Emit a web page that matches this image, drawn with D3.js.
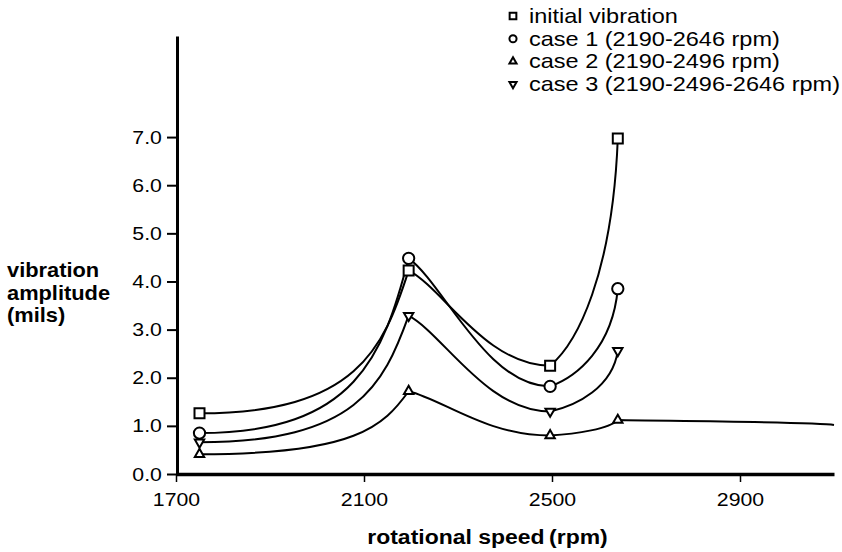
<!DOCTYPE html>
<html>
<head>
<meta charset="utf-8">
<script src="https://cdn.jsdelivr.net/npm/d3@7"></script>
<style>
  body { margin: 0; background: #fff; }
  text { font-family: "Liberation Sans", Arial, Helvetica, sans-serif; fill: #000; }
</style>
</head>
<body>
<div id="chart"></div>
<script>
// values
const rpm = [1750, 2195, 2496, 2640];
const initialVibration = [1.26, 4.23, 2.25, 6.97];
const case1 = [0.85, 4.48, 1.82, 3.85];
const case2 = [0.41, 1.72, 0.80, 1.12];
const case3 = [0.66, 3.29, 1.30, 2.56];
// case 2 carries on past its last marker to the end of the axis
const case2TailRpm = [3100];
const case2TailAmp = [1.02];

const xTicks = [1700, 2100, 2500, 2900];
const yTicks = [0, 1, 2, 3, 4, 5, 6, 7];
const seriesNames = [
  "initial vibration",
  "case 1 (2190-2646 rpm)",
  "case 2 (2190-2496 rpm)",
  "case 3 (2190-2496-2646 rpm)"
];

const SX = 1.12; // the scanned type is a little wide

const svg = d3.select("#chart")
  .append("svg")
    .attr("width", 842)
    .attr("height", 552);

const x = d3.scaleLinear().domain([1700, 3100]).range([176, 834]);
const y = d3.scaleLinear().domain([0, 9.1]).range([474, 36]);

const series = [
  { name: seriesNames[0], xs: rpm, ys: initialVibration, type: d3.symbolSquare, size: 100, legSize: 45, rot: 0 },
  { name: seriesNames[1], xs: rpm, ys: case1, type: d3.symbolCircle, size: 100, legSize: 40, rot: 0 },
  { name: seriesNames[2], xs: rpm, ys: case2, type: d3.symbolTriangle, size: 38, legSize: 22, rot: 0,
    tailX: case2TailRpm, tailY: case2TailAmp },
  { name: seriesNames[3], xs: rpm, ys: case3, type: d3.symbolTriangle, size: 38, legSize: 22, rot: 180 }
];

// hand drawn look: flat starts, tight peaks, steep finish
const curvePath = (pts) => {
  const n = pts.length;
  const kind = i => {
    if (i === 0) return "start";
    if (i === n - 1) return "end";
    if (pts[i][1] < pts[i - 1][1] && pts[i][1] < pts[i + 1][1]) return "max";
    if (pts[i][1] > pts[i - 1][1] && pts[i][1] > pts[i + 1][1]) return "min";
    return "mid";
  };
  const p = d3.path();
  p.moveTo(pts[0][0], pts[0][1]);
  for (let i = 0; i < n - 1; i++) {
    const [ax, ay] = pts[i], [bx, by] = pts[i + 1];
    const dx = bx - ax, dy = by - ay;
    let c1, c2;
    switch (kind(i)) {
      case "start": c1 = [ax + 0.75 * dx, ay]; break;
      case "max": c1 = [ax + 0.25 * dx, ay + 0.2 * dy]; break;
      case "min": c1 = [ax + 0.4 * dx, ay + 0.1 * dy]; break;
      default: c1 = [ax + dx / 3, ay + dy / 3];
    }
    switch (kind(i + 1)) {
      case "max": c2 = [bx - 0.12 * dx, by - 0.55 * dy]; break;
      case "min": c2 = [bx - 0.45 * dx, by]; break;
      case "end": c2 = [bx - 0.08 * dx, by - 0.6 * dy]; break;
      default: c2 = [bx - dx / 3, by - dy / 3];
    }
    p.bezierCurveTo(c1[0], c1[1], c2[0], c2[1], bx, by);
  }
  return p.toString();
};

// y axis
svg.append("g")
  .attr("transform", `translate(${x(1700) + 1},0)`)
  .call(d3.axisLeft(y).tickValues(yTicks).tickFormat(d3.format(".1f"))
    .tickSize(10).tickSizeOuter(0).tickPadding(3.5))
  .attr("font-family", null)
  .attr("font-size", 19)
  .call(g => {
    g.select(".domain").attr("stroke-width", 3);
    g.selectAll(".tick line").attr("stroke-width", 2);
    g.selectAll(".tick text").attr("transform", `scale(${SX},1)`);
  });

// x axis
svg.append("g")
  .attr("transform", `translate(0,${y(0)})`)
  .call(d3.axisBottom(x).tickValues(xTicks).tickFormat(d3.format("d"))
    .tickSize(8).tickSizeOuter(0).tickPadding(11))
  .attr("font-family", null)
  .attr("font-size", 19)
  .call(g => {
    g.select(".domain").attr("stroke-width", 3.5);
    g.selectAll(".tick line").attr("stroke-width", 1.5);
    g.selectAll(".tick text").attr("transform", `scale(${SX},1)`);
  });

// curves
svg.selectAll("path.curve")
  .data(series)
  .join("path")
    .attr("class", "curve")
    .attr("fill", "none")
    .attr("stroke", "#000")
    .attr("stroke-width", 2)
    .attr("d", s => {
      const xs = s.tailX ? s.xs.concat(s.tailX) : s.xs;
      const ys = s.tailY ? s.ys.concat(s.tailY) : s.ys;
      return curvePath(xs.map((v, i) => [x(v), y(ys[i])]));
    });

// markers
series.forEach(s => {
  svg.append("g")
    .selectAll("path")
    .data(s.xs.map((v, i) => [v, s.ys[i]]))
    .join("path")
      .attr("d", d3.symbol().type(s.type).size(s.size))
      .attr("transform", d => `translate(${x(d[0])},${y(d[1])}) rotate(${s.rot})`)
      .attr("fill", "#fff")
      .attr("stroke", "#000")
      .attr("stroke-width", 2);
});

// legend
const legend = svg.append("g")
  .selectAll("g")
  .data(series)
  .join("g")
    .attr("transform", (d, i) => `translate(513,${16 + i * 22.7})`);

legend.append("path")
  .attr("d", d => d3.symbol().type(d.type).size(d.legSize)())
  .attr("transform", d => `rotate(${d.rot})`)
  .attr("fill", "#fff")
  .attr("stroke", "#000")
  .attr("stroke-width", 2);

legend.append("text")
  .text(d => d.name)
  .attr("transform", `translate(16,7) scale(${SX},1)`)
  .style("font-size", "21px");

// axis titles
const yTitle = ["vibration", "amplitude", "(mils)"];
svg.append("g")
  .selectAll("text")
  .data(yTitle)
  .join("text")
    .text(d => d)
    .attr("transform", (d, i) => `translate(7,${277 + i * 22.5}) scale(${SX},1)`)
    .style("font-size", "19.5px")
    .style("font-weight", "bold");

svg.append("text")
  .text("rotational speed\u2009(rpm)")
  .attr("transform", `translate(487.5,544) scale(${SX},1)`)
  .attr("text-anchor", "middle")
  .style("font-size", "20.5px")
  .style("font-weight", "bold");
</script>
</body>
</html>
